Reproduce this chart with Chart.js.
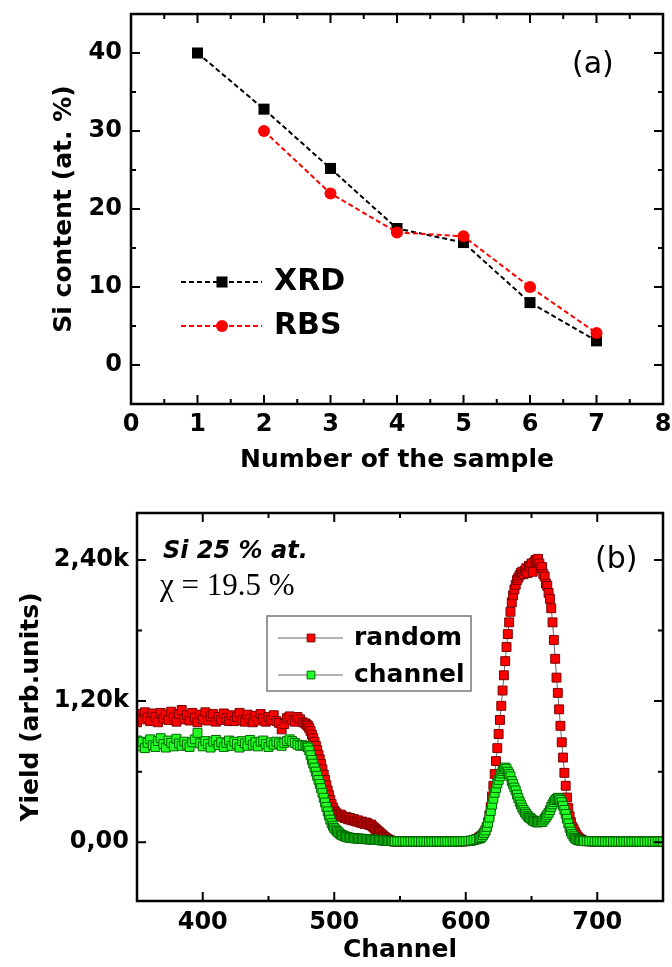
<!DOCTYPE html>
<html>
<head>
<meta charset="utf-8">
<script src="https://cdn.jsdelivr.net/npm/chart.js@4.4.1/dist/chart.umd.min.js"></script>
<style>
    html, body { margin: 0; padding: 0; background: #fff; }
    .panel { position: absolute; left: 0; width: 672px; }
    #wrapA { top: 0; height: 480px; }
    #wrapB { top: 480px; height: 487px; }
</style>
</head>
<body>
<div id="wrapA" class="panel"><canvas id="chartA" width="672" height="480"></canvas></div>
<div id="wrapB" class="panel"><canvas id="chartB" width="672" height="487"></canvas></div>
<script>
// ---- panel (a): Si content vs sample number ----
const xrdSamples = [1, 2, 3, 4, 5, 6, 7];
const xrdSi = [40.0, 32.8, 25.2, 17.5, 15.7, 8.0, 3.1];
const rbsSamples = [2, 3, 4, 5, 6, 7];
const rbsSi = [30.0, 22.0, 17.0, 16.5, 10.0, 4.1];

const xTicksA = [0, 1, 2, 3, 4, 5, 6, 7, 8];
const xMinorA = [0.5, 1.5, 2.5, 3.5, 4.5, 5.5, 6.5, 7.5];
const yTicksA = [0, 10, 20, 30, 40];
const yMinorA = [5, 15, 25, 35];

// ---- panel (b): RBS spectra ----
const channels = [
    // 350-478, every 2nd channel
    350,352,354,356,358,360,362,364,366,368,370,372,374,376,378,380,382,384,386,388,
    390,392,394,396,398,400,402,404,406,408,410,412,414,416,418,420,422,424,426,428,
    430,432,434,436,438,440,442,444,446,448,450,452,454,456,458,460,462,464,466,468,
    470,472,474,476,478,
    // 479-546, every channel
    479,480,481,482,483,484,485,486,487,488,489,490,491,492,493,494,495,496,497,498,
    499,500,501,502,503,504,505,506,507,508,509,510,511,512,513,514,515,516,517,518,
    519,520,521,522,523,524,525,526,527,528,529,530,531,532,533,534,535,536,537,538,
    539,540,541,542,543,544,545,546,
    // 548-610, every 2nd channel
    548,550,552,554,556,558,560,562,564,566,568,570,572,574,576,578,580,582,584,586,
    588,590,592,594,596,598,600,602,604,606,608,610,
    // 611-690, every channel
    611,612,613,614,615,616,617,618,619,620,621,622,623,624,625,626,627,628,629,630,
    631,632,633,634,635,636,637,638,639,640,641,642,643,644,645,646,647,648,649,650,
    651,652,653,654,655,656,657,658,659,660,661,662,663,664,665,666,667,668,669,670,
    671,672,673,674,675,676,677,678,679,680,681,682,683,684,685,686,687,688,689,690,
    // 692-750, every 2nd channel
    692,694,696,698,700,702,704,706,708,710,712,714,716,718,720,722,724,726,728,730,
    732,734,736,738,740,742,744,746,748,750
];

const randomYield = [
    1020,1090,1045,1105,1060,1030,1095,1065,1020,1100,1050,1085,1040,1110,1060,1025,1090,1125,1045,1080,
    1035,1100,1060,1020,1085,1045,1105,1035,1070,1090,1025,1065,1040,1095,1055,1030,1080,1030,1065,1100,
    1040,1025,1085,1050,1020,1075,1035,1090,1050,1025,1065,1040,1080,1030,1015,960,1005,1055,1070,1040,
    1025,1065,1045,1020,1010,
    1000,990,970,945,915,885,855,820,785,745,705,665,620,575,530,485,440,400,360,325,
    295,270,255,242,232,225,235,220,214,206,216,200,195,206,190,186,196,181,176,186,
    172,166,176,162,156,168,162,152,146,150,136,126,116,106,96,86,76,66,56,46,
    38,30,24,18,14,10,8,6,
    5,4,6,5,4,5,6,5,4,5,5,6,4,5,5,6,5,4,5,6,
    5,5,6,5,6,7,8,10,13,18,27,38,
    45,55,65,80,100,130,170,230,300,390,480,580,690,800,920,1040,1160,1290,1420,1540,
    1660,1770,1870,1960,2040,2100,2150,2190,2230,2250,2270,2290,2300,2280,2310,2330,2290,2350,2340,2370,
    2300,2380,2400,2390,2410,2370,2330,2340,2280,2260,2200,2180,2120,2070,1990,1870,1720,1560,1400,1270,
    1130,990,850,720,590,480,380,290,220,170,130,110,85,65,48,35,26,19,14,11,
    9,8,7,7,6,6,6,5,5,5,6,5,5,5,4,5,5,4,5,5,
    4,5,5,4,5,5,4,5,5,4
];

const channelYield = [
    865,815,855,800,845,875,825,810,860,885,835,805,865,845,815,880,840,820,855,830,
    810,850,875,930,840,815,860,835,805,855,870,825,850,810,845,865,820,855,835,805,
    860,840,820,870,830,850,815,855,865,835,810,850,830,855,840,820,845,860,875,860,
    845,830,820,825,818,
    815,805,780,740,700,668,635,600,565,530,495,460,420,378,338,300,262,226,192,162,
    140,122,108,96,85,75,66,60,55,50,46,42,40,38,36,35,34,33,32,31,
    30,30,29,28,27,26,26,25,24,23,23,22,21,20,19,18,17,16,15,14,
    13,12,11,10,10,9,8,8,
    7,6,7,6,5,6,6,5,6,5,6,6,5,6,5,6,6,5,6,6,
    5,6,6,7,7,8,9,11,14,18,24,30,
    35,45,60,78,100,130,165,210,265,320,370,420,460,500,530,560,585,605,620,635,
    625,600,580,560,520,495,465,440,405,375,345,320,295,275,255,240,225,212,205,195,
    186,180,174,170,168,175,180,172,185,200,215,232,250,272,300,322,342,358,368,378,
    372,360,340,310,275,240,200,160,122,90,68,50,36,26,20,16,14,12,11,10,
    9,8,8,7,7,6,6,6,5,6,5,5,6,5,5,5,6,5,5,5,
    6,5,5,5,6,5,5,5,6,5
];

const xTicksB = [400, 500, 600, 700];
const xMinorB = [450, 550, 650];
const yTicksB = [0, 1200, 2400];
const yTickLabelsB = ['0,00', '1,20k', '2,40k'];
const yMinorB = [600, 1800];

const tickFont = { family: 'DejaVu Sans', weight: 'bold', size: 24 };
const titleFont = { family: 'DejaVu Sans', weight: 'bold', size: 25 };

// Box around the plot with inward major/minor ticks on all four sides
const framePlugin = {
    id: 'frame',
    afterDraw(chart, args, opts) {
        const { ctx, chartArea: a, scales: { x, y } } = chart;
        ctx.save();
        ctx.strokeStyle = '#000';
        ctx.lineWidth = 2;
        const xTick = (v, len) => {
            const px = x.getPixelForValue(v);
            ctx.beginPath();
            ctx.moveTo(px, a.bottom); ctx.lineTo(px, a.bottom - len);
            ctx.moveTo(px, a.top); ctx.lineTo(px, a.top + len);
            ctx.stroke();
        };
        const yTick = (v, len) => {
            const py = y.getPixelForValue(v);
            ctx.beginPath();
            ctx.moveTo(a.left, py); ctx.lineTo(a.left + len, py);
            ctx.moveTo(a.right, py); ctx.lineTo(a.right - len, py);
            ctx.stroke();
        };
        opts.xMajor.forEach(v => xTick(v, 9));
        opts.xMinor.forEach(v => xTick(v, 5));
        opts.yMajor.forEach(v => yTick(v, 9));
        opts.yMinor.forEach(v => yTick(v, 5));
        ctx.lineWidth = 2.5;
        ctx.strokeRect(a.left, a.top, a.right - a.left, a.bottom - a.top);
        ctx.restore();
    }
};

// Panel label, free text and a hand placed legend
const notesPlugin = {
    id: 'notes',
    afterDraw(chart, args, opts) {
        const ctx = chart.ctx;
        ctx.save();
        ctx.textBaseline = 'middle';
        ctx.textAlign = 'left';
        ctx.fillStyle = '#000';
        (opts.texts || []).forEach(t => {
            ctx.font = t.font;
            ctx.fillText(t.text, t.x, t.y);
        });
        const lg = opts.legend;
        if (lg) {
            if (lg.box) {
                ctx.strokeStyle = '#777';
                ctx.lineWidth = 1.5;
                ctx.strokeRect(lg.box[0], lg.box[1], lg.box[2], lg.box[3]);
            }
            lg.entries.forEach(e => {
                const ds = chart.data.datasets[e.ds];
                ctx.save();
                ctx.setLineDash(ds.borderDash || []);
                ctx.strokeStyle = ds.borderColor;
                ctx.lineWidth = ds.borderWidth;
                ctx.beginPath();
                ctx.moveTo(lg.x0, e.y);
                ctx.lineTo(lg.x1, e.y);
                ctx.stroke();
                ctx.restore();
                ctx.save();
                ctx.fillStyle = ds.pointBackgroundColor || ds.backgroundColor;
                ctx.strokeStyle = ds.pointBorderColor || ds.borderColor;
                ctx.lineWidth = ds.pointBorderWidth || 0;
                Chart.helpers.drawPoint(ctx, {
                    pointStyle: ds.pointStyle,
                    radius: lg.mr || ds.pointRadius,
                    borderWidth: ds.pointBorderWidth || 0,
                    rotation: 0
                }, lg.mx, e.y);
                ctx.restore();
                ctx.font = lg.font;
                ctx.fillStyle = '#000';
                ctx.fillText(ds.label, lg.tx, e.y);
            });
        }
        ctx.restore();
    }
};

// fixed axis size, no extra room reserved for overhanging labels
function pinSize(s, w, h) {
    if (w !== null) s.width = w;
    if (h !== null) s.height = h;
    s.paddingLeft = 0; s.paddingRight = 0;
    s.paddingTop = 0; s.paddingBottom = 0;
}

function axisX(min, max, ticks, height, title, titlePad, tickPad, labelFn) {
    return {
        type: 'linear', min: min, max: max,
        afterBuildTicks: s => { s.ticks = ticks.map(v => ({ value: v })); },
        afterFit: s => pinSize(s, null, height),
        grid: { display: false, drawTicks: false },
        border: { display: false },
        ticks: { font: tickFont, color: '#000', padding: tickPad, maxRotation: 0, autoSkip: false,
                 callback: labelFn || (v => v) },
        title: { display: true, text: title, font: titleFont, color: '#000', padding: { top: 0, bottom: titlePad } }
    };
}

function axisY(min, max, ticks, width, title, titlePad, tickPad, labelFn) {
    return {
        type: 'linear', min: min, max: max,
        afterBuildTicks: s => { s.ticks = ticks.map(v => ({ value: v })); },
        afterFit: s => pinSize(s, width, null),
        grid: { display: false, drawTicks: false },
        border: { display: false },
        ticks: { font: tickFont, color: '#000', padding: tickPad, autoSkip: false,
                 callback: labelFn || (v => v) },
        title: { display: true, text: title, font: titleFont, color: '#000', padding: { top: titlePad, bottom: 0 } }
    };
}

new Chart(document.getElementById('chartA'), {
    type: 'scatter',
    data: {
        datasets: [
            {
                label: 'XRD',
                data: xrdSamples.map((s, i) => ({ x: s, y: xrdSi[i] })),
                showLine: true,
                borderColor: '#000',
                backgroundColor: '#000',
                borderWidth: 2,
                borderDash: [5, 3],
                pointStyle: 'rect',
                pointRadius: 7.8,
                pointBorderWidth: 0,
                order: 2
            },
            {
                label: 'RBS',
                data: rbsSamples.map((s, i) => ({ x: s, y: rbsSi[i] })),
                showLine: true,
                borderColor: '#ff0000',
                backgroundColor: '#ff0000',
                borderWidth: 2,
                borderDash: [5, 3],
                pointStyle: 'circle',
                pointRadius: 6,
                pointBorderWidth: 0,
                order: 1
            }
        ]
    },
    options: {
        responsive: false,
        animation: false,
        layout: { padding: { top: 14, right: 9, left: 0, bottom: 0 } },
        plugins: {
            legend: { display: false },
            tooltip: { enabled: false },
            frame: { xMajor: xTicksA, xMinor: xMinorA, yMajor: yTicksA, yMinor: yMinorA },
            notes: {
                texts: [{ text: '(a)', x: 572, y: 65, font: '30px "DejaVu Sans"' }],
                legend: {
                    x0: 181, x1: 262, mx: 222, tx: 274,
                    font: 'bold 30px "DejaVu Sans"',
                    entries: [{ ds: 0, y: 282 }, { ds: 1, y: 326 }]
                }
            }
        },
        scales: {
            x: axisX(0, 8, xTicksA, 76, 'Number of the sample', 5, 6),
            y: axisY(-5, 45, yTicksA, 131, 'Si content (at. %)', 49, 9)
        }
    },
    plugins: [framePlugin, notesPlugin]
});

new Chart(document.getElementById('chartB'), {
    type: 'scatter',
    data: {
        datasets: [
            {
                label: 'random',
                data: channels.map((c, i) => ({ x: c, y: randomYield[i] })),
                showLine: true,
                borderColor: '#666',
                borderWidth: 1,
                pointStyle: 'rect',
                pointRadius: 6.3,
                pointBackgroundColor: '#ff0000',
                pointBorderColor: '#7a0000',
                pointBorderWidth: 1,
                order: 2
            },
            {
                label: 'channel',
                data: channels.map((c, i) => ({ x: c, y: channelYield[i] })),
                showLine: true,
                borderColor: '#666',
                borderWidth: 1,
                pointStyle: 'rect',
                pointRadius: 6.3,
                pointBackgroundColor: '#22ff22',
                pointBorderColor: '#006400',
                pointBorderWidth: 1,
                order: 1
            }
        ]
    },
    options: {
        responsive: false,
        animation: false,
        layout: { padding: { top: 33, right: 9, left: 0, bottom: 0 } },
        plugins: {
            legend: { display: false },
            tooltip: { enabled: false },
            frame: { xMajor: xTicksB, xMinor: xMinorB, yMajor: yTicksB, yMinor: yMinorB },
            notes: {
                texts: [
                    { text: 'Si 25 % at.', x: 163, y: 72, font: 'italic bold 24px "DejaVu Sans"' },
                    { text: 'χ = 19.5 %', x: 160, y: 107, font: '31px "Liberation Serif"' },
                    { text: '(b)', x: 595, y: 80, font: '30px "DejaVu Sans"' }
                ],
                legend: {
                    box: [267, 136, 204, 75],
                    x0: 278, x1: 343, mx: 311, tx: 354, mr: 5.5,
                    font: 'bold 25px "DejaVu Sans"',
                    entries: [{ ds: 0, y: 158 }, { ds: 1, y: 195 }]
                }
            }
        },
        scales: {
            x: axisX(350, 750, xTicksB, 66, 'Channel', 2, 7),
            y: axisY(-500, 2800, yTicksB, 137, 'Yield (arb.units)', 16, 8,
                     v => yTickLabelsB[yTicksB.indexOf(v)])
        }
    },
    plugins: [framePlugin, notesPlugin]
});
</script>
</body>
</html>
